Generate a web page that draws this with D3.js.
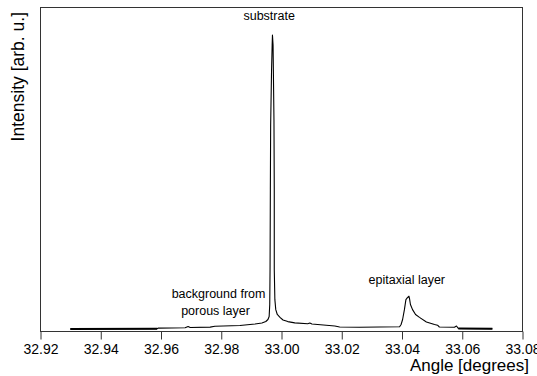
<!DOCTYPE html>
<html>
<head>
<meta charset="utf-8">
<script src="https://cdn.jsdelivr.net/npm/d3@7"></script>
<style>
  html, body { margin: 0; padding: 0; background: #fff; }
  svg { display: block; }
</style>
</head>
<body>
<div id="chart"></div>
<script>
// rocking curve
const angle = [
  32.9299, 32.9587, 32.9591, 32.9680, 32.9690, 32.9697, 32.9763, 32.9779, 32.9862, 32.9912,
  32.9935, 32.9948, 32.9955, 32.9959, 32.9961, 32.9962, 32.9963, 32.9964, 32.9967, 32.9969,
  32.9970, 32.9972, 32.9973, 32.9975, 32.9976, 32.9976, 32.9978, 32.9981, 32.9986, 32.9995,
  33.0005, 33.0021, 33.0044, 33.0087, 33.0094, 33.0101, 33.0177, 33.0193, 33.0259, 33.0392,
  33.0397, 33.0402, 33.0408, 33.0413, 33.0418, 33.0423, 33.0425, 33.0428, 33.0435, 33.0445,
  33.0458, 33.0481, 33.0508, 33.0518, 33.0524, 33.0574, 33.0581, 33.0587, 33.0700
];
const intensity = [
  3.1, 3.7, 5.9, 6.8, 10.8, 7.7, 9.0, 11.4, 13.9, 18.5,
  21.6, 26.3, 32.5, 41.7, 78.8, 187, 434, 635, 805, 882,
  913, 882, 805, 650, 434, 187, 94, 63, 48, 39,
  31, 26, 22, 19.5, 21.6, 18.5, 12.4, 9.3, 8.7, 9.9,
  17, 32.5, 63, 94, 100, 104.5, 97, 79, 63, 48,
  39, 25, 17, 14.8, 9.3, 8.7, 12.4, 4.6, 4.0
];
const xTicks = [32.92, 32.94, 32.96, 32.98, 33.00, 33.02, 33.04, 33.06, 33.08];
const notes = [
  { text: 'substrate', a: 32.9959, i: 960 },
  { text: 'epitaxial layer', a: 33.0416, i: 141 },
  { text: 'background from', a: 32.9791, i: 100 },
  { text: 'porous layer', a: 32.9781, i: 45 }
];

const width = 537, height = 376;
const margin = { top: 7, right: 14, bottom: 45, left: 40 };

const svg = d3.select('#chart').append('svg')
  .attr('width', width)
  .attr('height', height)
  .style('font-family', '"Liberation Sans", Arial, sans-serif');

const x = d3.scaleLinear()
  .domain([32.92, 33.08])
  .range([margin.left + 0.5, width - margin.right - 0.5]);

const y = d3.scaleLinear()
  .domain([0, 1000])
  .range([height - margin.bottom - 1, margin.top]);

const frameColor = '#333';

svg.append('rect')
  .attr('x', x(32.92))
  .attr('y', margin.top + 0.5)
  .attr('width', x(33.08) - x(32.92))
  .attr('height', height - margin.bottom - margin.top)
  .attr('fill', 'none')
  .attr('stroke', frameColor);

svg.append('g')
  .attr('transform', `translate(0,${height - margin.bottom + 0.5})`)
  .call(d3.axisBottom(x).tickValues(xTicks).tickFormat(d3.format('.2f')).tickSize(8).tickPadding(5))
  .call(g => g.select('.domain').remove())
  .call(g => g.selectAll('.tick line').attr('stroke', frameColor))
  .call(g => g.selectAll('.tick text')
    .attr('fill', '#000')
    .style('font-size', '14px')
    .style('font-family', '"Liberation Sans", Arial, sans-serif'));

const pts = angle.map((a, k) => ({ a, v: intensity[k] }));

const line = d3.line()
  .x(d => x(d.a))
  .y(d => y(d.v));

svg.append('path')
  .datum(pts)
  .attr('fill', 'none')
  .attr('stroke', '#000')
  .attr('stroke-width', 1.1)
  .attr('stroke-linejoin', 'round')
  .attr('d', line);

// coarse scan ends look heavier
[pts.filter(d => d.a <= 32.9588), pts.filter(d => d.a >= 33.0587)].forEach(seg => {
  svg.append('path')
    .datum(seg)
    .attr('fill', 'none')
    .attr('stroke', '#000')
    .attr('stroke-width', 2)
    .attr('d', line);
});

svg.append('g')
  .selectAll('text')
  .data(notes)
  .join('text')
  .attr('x', d => x(d.a))
  .attr('y', d => y(d.i))
  .attr('text-anchor', 'middle')
  .style('font-size', '12.5px')
  .attr('fill', '#000')
  .text(d => d.text);

svg.append('text')
  .attr('x', 529)
  .attr('y', 371)
  .attr('text-anchor', 'end')
  .style('font-size', '17px')
  .attr('fill', '#000')
  .text('Angle [degrees]');

svg.append('text')
  .attr('transform', 'translate(24,12) rotate(-90)')
  .attr('text-anchor', 'end')
  .style('font-size', '17.5px')
  .attr('fill', '#000')
  .text('Intensity [arb. u.]');
</script>
</body>
</html>
